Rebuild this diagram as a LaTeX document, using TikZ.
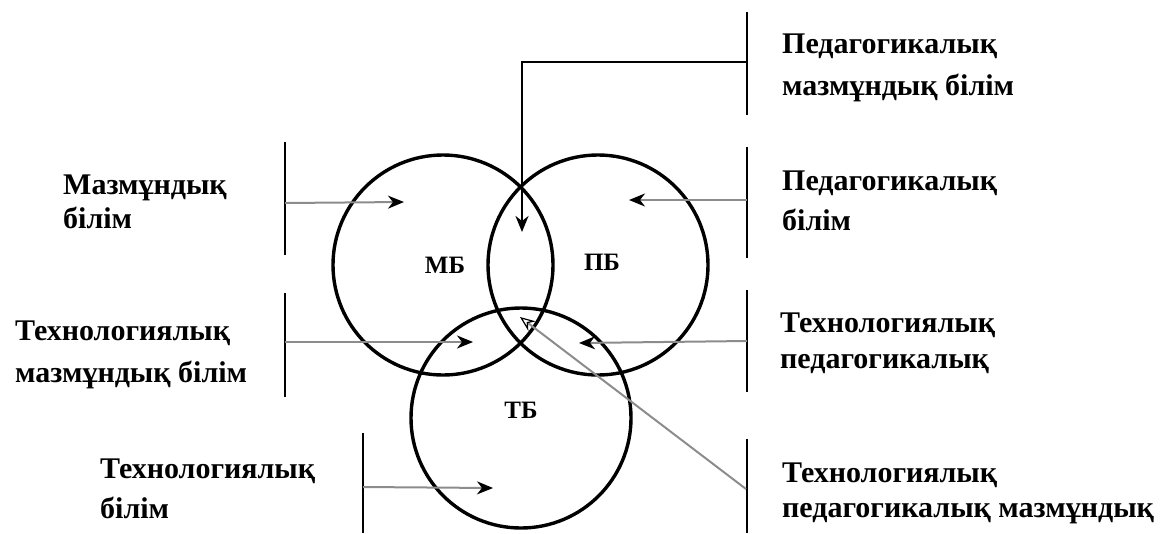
\documentclass[tikz,border=0pt]{standalone}
\usepackage{fontspec}
\setmainfont{Liberation Serif}
\usetikzlibrary{arrows.meta}

\tikzset{
  ring/.style={line width=3.4pt, black},
  bar/.style={line width=2.6pt, black},
  feed/.style={line width=2pt, black!45, -{Stealth[length=16pt, width=13pt, inset=5pt, color=black]}},
  feedopen/.style={line width=2pt, black!45, -{Stealth[length=15pt, width=12pt, inset=5pt, open, fill=white, color=black, line width=1.2pt]}},
  mainfeed/.style={line width=2.2pt, black, -{Stealth[length=16pt, width=13pt, inset=5pt]}},
  label/.style={font=\bfseries\fontsize{30}{#1}\selectfont, align=left, anchor=base west, inner sep=0pt},
  label/.default=40,
  ringname/.style={font=\bfseries\fontsize{25}{28}\selectfont, inner sep=0pt}
}

\begin{document}
\begin{tikzpicture}[x=1pt, y=-1pt]
  \useasboundingbox (0,0) rectangle (1169,533);

  % three knowledge domains
  \coordinate (cM) at (443,265);
  \coordinate (cP) at (598,265);
  \coordinate (cT) at (521,418);
  \draw[ring] (cM) circle[radius=110];
  \draw[ring] (cP) circle[radius=110];
  \draw[ring] (cT) circle[radius=110];
  \node[ringname] (mb) at (445,265) {МБ};
  \node[ringname] (pb) at (602,262) {ПБ};
  \node[ringname] (tb) at (521,410) {ТБ};

  % bracket bars beside the labels
  \draw[bar] (285,142) coordinate (bL1a) -- (285,255) coordinate (bL1b);
  \draw[bar] (285,293) coordinate (bL2a) -- (285,397) coordinate (bL2b);
  \draw[bar] (363,433) coordinate (bL3a) -- (363,533) coordinate (bL3b);
  \draw[bar] (747,12)  coordinate (bR0a) -- (747,115) coordinate (bR0b);
  \draw[bar] (747,147) coordinate (bR1a) -- (747,258) coordinate (bR1b);
  \draw[bar] (747,290) coordinate (bR2a) -- (747,392) coordinate (bR2b);
  \draw[bar] (747,439) coordinate (bR3a) -- (747,533) coordinate (bR3b);

  % arrow sources on the bars and targets inside the regions
  \coordinate (sL1) at (285,203);  \coordinate (tL1) at (404,202);
  \coordinate (sL2) at (285,342);  \coordinate (tL2) at (473,342);
  \coordinate (sL3) at (363,487);  \coordinate (tL3) at (493,488);
  \coordinate (sR0) at (747,62);   \coordinate (kR0) at (522,62);
  \coordinate (tR0) at (522,232);
  \coordinate (sR1) at (747,200);  \coordinate (tR1) at (629,200);
  \coordinate (sR2) at (747,341);  \coordinate (tR2) at (579,343);
  \coordinate (sR3) at (746,489);  \coordinate (tR3) at (520,317);

  \draw[feed] (sL1) -- (tL1);
  \draw[feed] (sL2) -- (tL2);
  \draw[feed] (sL3) -- (tL3);
  \draw[mainfeed] (sR0) -- (kR0) -- (tR0);
  \draw[feed] (sR1) -- (tR1);
  \draw[feed] (sR2) -- (tR2);
  \draw[feedopen] (sR3) -- (tR3);

  % labels (each node is placed by the baseline of its last line)
  \node[label=42] (lPCK) at (782,95)  {Педагогикалық\\мазмұндық білім};
  \node[label=34] (lCK)  at (63,228)  {Мазмұндық\\білім};
  \node[label=40] (lPK)  at (782,230) {Педагогикалық\\білім};
  \node[label=42] (lTCK) at (15,382)  {Технологиялық\\мазмұндық білім};
  \node[label=36] (lTPK) at (780,368) {Технологиялық\\педагогикалық};
  \node[label=40] (lTK)  at (100,518) {Технологиялық\\білім};
  \node[label=35] (lTPCK) at (782,517) {Технологиялық\\педагогикалық мазмұндық};
\end{tikzpicture}
\end{document}
